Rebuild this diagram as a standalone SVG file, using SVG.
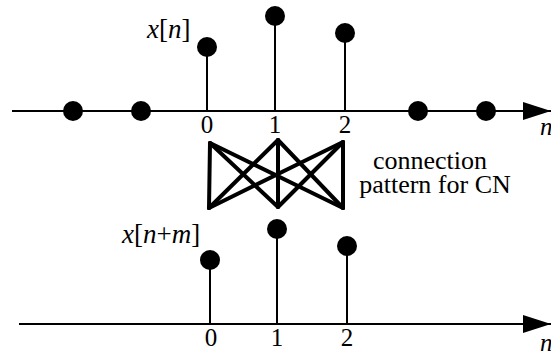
<svg xmlns="http://www.w3.org/2000/svg" width="551" height="352" viewBox="0 0 551 352">
<style>
.ax{stroke:#000;stroke-width:1.8;fill:none}
.st{stroke:#000;stroke-width:2}
.dot{fill:#000}
.t{font-family:"Liberation Serif","Times New Roman",serif;font-size:25px;fill:#000}
.lb{font-size:27px}
.c{font-size:26px}
.i{font-style:italic}
.cn{stroke:#000;stroke-width:4;stroke-linecap:round}
</style>
<defs>
<marker id="arr" markerWidth="28" markerHeight="18" refX="28" refY="9" orient="auto" markerUnits="userSpaceOnUse">
<path d="M0,0 L28,9 L0,18 Z" fill="#000"/>
</marker>
</defs>
<g id="top-axis">
<line class="ax" x1="12" y1="111" x2="551" y2="111" marker-end="url(#arr)"/>
<text class="t i" x="540" y="135">n</text>
</g>
<g id="top-samples">
<circle class="dot" cx="73" cy="111" r="10"/>
<circle class="dot" cx="141" cy="111" r="10"/>
<circle class="dot" cx="418" cy="111" r="10"/>
<circle class="dot" cx="486" cy="111" r="10"/>
<line class="st" x1="207" y1="111" x2="207" y2="47"/>
<circle class="dot" cx="207" cy="47" r="10"/>
<line class="st" x1="275" y1="111" x2="275" y2="16"/>
<circle class="dot" cx="275" cy="16" r="10"/>
<line class="st" x1="345" y1="111" x2="345" y2="33"/>
<circle class="dot" cx="345" cy="33" r="10"/>
<text class="t" x="207" y="133" text-anchor="middle">0</text>
<text class="t" x="275" y="133" text-anchor="middle">1</text>
<text class="t" x="345" y="133" text-anchor="middle">2</text>
<text class="t lb" x="147" y="38"><tspan class="i">x</tspan>[<tspan class="i">n</tspan>]</text>
</g>
<g id="connectors">
<line class="cn" x1="210" y1="143" x2="209" y2="208"/>
<line class="cn" x1="210" y1="143" x2="278" y2="207"/>
<line class="cn" x1="210" y1="143" x2="343" y2="208"/>
<line class="cn" x1="278" y1="140" x2="209" y2="208"/>
<line class="cn" x1="278" y1="140" x2="278" y2="207"/>
<line class="cn" x1="278" y1="140" x2="343" y2="208"/>
<line class="cn" x1="343" y1="142" x2="209" y2="208"/>
<line class="cn" x1="343" y1="142" x2="278" y2="207"/>
<line class="cn" x1="343" y1="142" x2="343" y2="208"/>
</g>
<g id="label-cn">
<text class="t c" x="430" y="169" text-anchor="middle">connection</text>
<text class="t c" x="435" y="193" text-anchor="middle">pattern for CN</text>
</g>
<g id="bottom-axis">
<line class="ax" x1="19" y1="324" x2="551" y2="324" marker-end="url(#arr)"/>
<text class="t i" x="540" y="351">n</text>
</g>
<g id="bottom-samples">
<line class="st" x1="210" y1="324" x2="210" y2="260"/>
<circle class="dot" cx="210" cy="260" r="10"/>
<line class="st" x1="277" y1="324" x2="277" y2="229"/>
<circle class="dot" cx="277" cy="229" r="10"/>
<line class="st" x1="347" y1="324" x2="347" y2="246"/>
<circle class="dot" cx="347" cy="246" r="10"/>
<text class="t" x="211" y="346" text-anchor="middle">0</text>
<text class="t" x="277" y="346" text-anchor="middle">1</text>
<text class="t" x="347" y="346" text-anchor="middle">2</text>
<text class="t lb" x="122" y="243"><tspan class="i">x</tspan>[<tspan class="i">n</tspan>+<tspan class="i">m</tspan>]</text>
</g>
</svg>
